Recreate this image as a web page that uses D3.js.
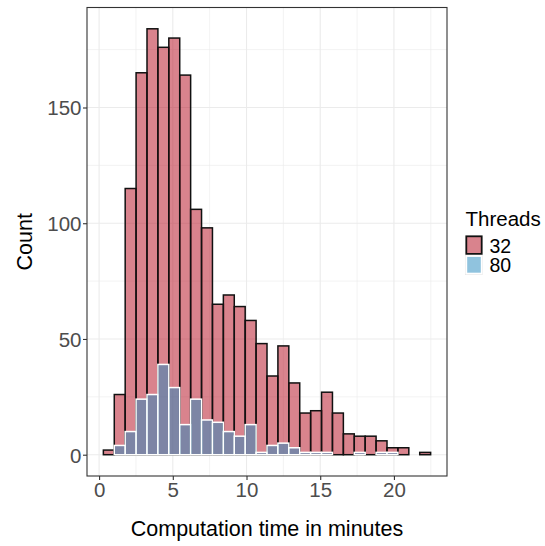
<!DOCTYPE html>
<html>
<head>
<meta charset="utf-8">
<script src="https://cdn.jsdelivr.net/npm/d3@7"></script>
<style>
  body { margin: 0; background: #fff; }
  svg { display: block; font-family: "Liberation Sans", Arial, Helvetica, sans-serif; }
</style>
</head>
<body>
<svg id="chart" width="545" height="546"></svg>
<script>
// ---- data ----
const binStart = 0.29;      // left edge of first bin (minutes)
const binWidth = 0.74;      // bin width (minutes)
const groups = ["32", "80"];
const counts32 = [2, 26, 115, 165, 184, 176, 180, 164, 106, 98, 65, 69, 64, 58, 48, 34, 47, 31, 18, 19, 27, 18, 9, 8, 8, 6, 3, 3, 0, 1];
const counts80 = [0, 4, 10, 24, 26, 39, 29, 13, 24, 15, 14, 10, 8, 13, 1, 4, 5, 3, 1, 1, 1, 0, 0, 1, 0, 1, 1, 0, 0, 0];
const xTicks = [0, 5, 10, 15, 20];
const yTicks = [0, 50, 100, 150];
const xTitle = "Computation time in minutes";
const yTitle = "Count";
const legendTitle = "Threads";

// ---- layout ----
const svg = d3.select("#chart");
const P = { left: 87, right: 447, top: 7.5, bottom: 476 };
const nb = counts32.length;
const dataLo = binStart, dataHi = binStart + nb * binWidth;
const xr = dataHi - dataLo;
const maxC = d3.max(counts32.concat(counts80));

const x = d3.scaleLinear().domain([dataLo - 0.05 * xr, dataHi + 0.05 * xr]).range([P.left, P.right]);
const y = d3.scaleLinear().domain([-0.05 * maxC, maxC * 1.05]).range([P.bottom, P.top]);

const fillBase = { "32": "rgb(180,8,28)", "80": "rgb(34,136,190)" };
const strokeCol = { "32": "#111111", "80": "#ffffff" };
const alpha = 0.5;

// panel background
svg.append("rect").attr("x", P.left).attr("y", P.top)
  .attr("width", P.right - P.left).attr("height", P.bottom - P.top).attr("fill", "#fff");

// grid
const grid = svg.append("g");
const xMinor = d3.range(2.5, 25, 5).filter(v => x(v) > P.left && x(v) < P.right);
const yMinor = [25, 75, 125, 175];
grid.selectAll(".xm").data(xMinor).join("line")
  .attr("x1", d => x(d)).attr("x2", d => x(d)).attr("y1", P.top).attr("y2", P.bottom)
  .attr("stroke", "#ebebeb").attr("stroke-width", 0.6);
grid.selectAll(".ym").data(yMinor).join("line")
  .attr("y1", d => y(d)).attr("y2", d => y(d)).attr("x1", P.left).attr("x2", P.right)
  .attr("stroke", "#ebebeb").attr("stroke-width", 0.6);
grid.selectAll(".xM").data(xTicks).join("line")
  .attr("x1", d => x(d)).attr("x2", d => x(d)).attr("y1", P.top).attr("y2", P.bottom)
  .attr("stroke", "#ebebeb").attr("stroke-width", 1.1);
grid.selectAll(".yM").data(yTicks).join("line")
  .attr("y1", d => y(d)).attr("y2", d => y(d)).attr("x1", P.left).attr("x2", P.right)
  .attr("stroke", "#ebebeb").attr("stroke-width", 1.1);

// bars
function drawBars(counts, g) {
  const data = counts.map((c, i) => ({ i, c })).filter(d => d.c > 0);
  svg.append("g").selectAll("rect").data(data).join("rect")
    .attr("x", d => x(binStart + d.i * binWidth))
    .attr("width", d => x(binStart + (d.i + 1) * binWidth) - x(binStart + d.i * binWidth))
    .attr("y", d => y(d.c))
    .attr("height", d => y(0) - y(d.c))
    .attr("fill", fillBase[g]).attr("fill-opacity", alpha)
    .attr("stroke", strokeCol[g]).attr("stroke-width", 1.5);
}
drawBars(counts32, "32");
drawBars(counts80, "80");

// panel border
svg.append("rect").attr("x", P.left).attr("y", P.top)
  .attr("width", P.right - P.left).attr("height", P.bottom - P.top)
  .attr("fill", "none").attr("stroke", "#333333").attr("stroke-width", 1.1);

// axes
const xAxis = d3.axisBottom(x).tickValues(xTicks).tickSize(4).tickPadding(3);
const gx = svg.append("g").attr("transform", `translate(0,${P.bottom})`).call(xAxis);
const yAxis = d3.axisLeft(y).tickValues(yTicks).tickSize(4).tickPadding(3);
const gy = svg.append("g").attr("transform", `translate(${P.left},0)`).call(yAxis);
[gx, gy].forEach(g => {
  g.select(".domain").remove();
  g.selectAll(".tick line").attr("stroke", "#333333").attr("stroke-width", 1.1);
  g.selectAll(".tick text").attr("fill", "#4d4d4d").attr("font-size", 20.5)
    .attr("font-family", "'Liberation Sans', Arial, sans-serif");
});
gx.selectAll(".tick text").attr("dy", null).attr("y", 21);
gy.selectAll(".tick text").attr("dy", "0.36em").attr("x", -5.5);

// axis titles
svg.append("text").attr("x", (P.left + P.right) / 2).attr("y", 536)
  .attr("text-anchor", "middle").attr("font-size", 21.5).attr("fill", "#000").text(xTitle);
svg.append("text").attr("transform", `translate(31.5,${(P.top + P.bottom) / 2}) rotate(-90)`)
  .attr("text-anchor", "middle").attr("font-size", 21.5).attr("fill", "#000").text(yTitle);

// legend
const lg = svg.append("g");
lg.append("text").attr("x", 465.5).attr("y", 226).attr("font-size", 20.5).attr("fill", "#000").text(legendTitle);
groups.forEach((g, k) => {
  const ky = 235.5 + k * 19.7;
  lg.append("rect").attr("x", 465.5).attr("y", ky).attr("width", 17).attr("height", 19.2)
    .attr("fill", "#fff").attr("stroke", k === 1 ? "#cccccc" : "none").attr("stroke-width", 0.6);
  lg.append("rect").attr("x", 466.3).attr("y", ky + 0.8).attr("width", 15.4).attr("height", 17.6)
    .attr("fill", fillBase[g]).attr("fill-opacity", alpha)
    .attr("stroke", strokeCol[g]).attr("stroke-width", 1.8);
  lg.append("text").attr("x", 489.5).attr("y", ky + 17).attr("font-size", 19.5).attr("fill", "#000").text(g);
});
</script>
</body>
</html>
